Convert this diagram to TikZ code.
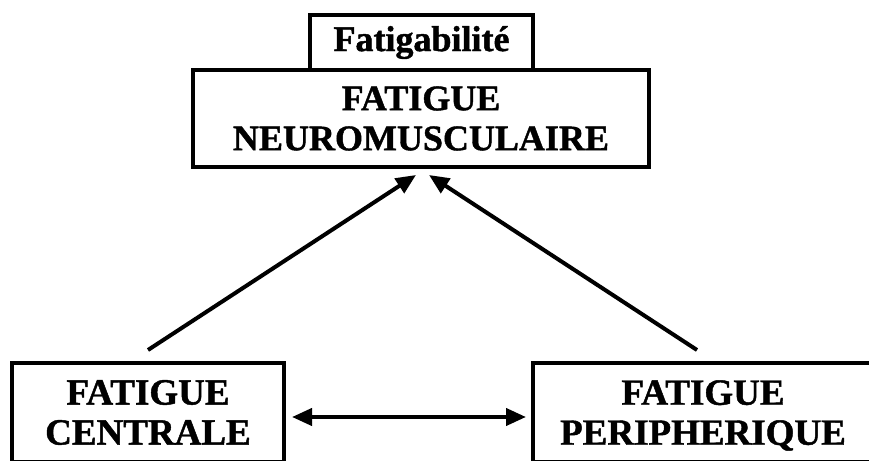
\documentclass[tikz,border=0pt]{standalone}
\usepackage{fontspec}
\setmainfont[BoldFeatures={FakeBold=1.2}]{Liberation Serif}
\usetikzlibrary{arrows.meta}
\begin{document}
\begin{tikzpicture}[x=1pt, y=1pt, line width=4pt,
    box/.style = {rectangle, draw = black, align = center, inner sep = 0pt,
                  font = \bfseries\fontsize{36}{40}\selectfont},
    arr/.style = {-{Triangle[length=20pt, width=17pt]}}]
    \useasboundingbox (0,0) rectangle (869,460);
    \node [box, minimum width = 456pt, minimum height = 97pt] (neuro) at (421,341.5) {FATIGUE\\NEUROMUSCULAIRE};
    \node [box, minimum width = 223pt, minimum height = 55pt, font = \bfseries\fontsize{36}{40}\selectfont] (fatig) at (421.5,417.5) {Fatigabilité};
    \node [box, minimum width = 272pt, minimum height = 99pt, font = \bfseries\fontsize{37}{40}\selectfont] (cent) at (148,47.5) {FATIGUE\\CENTRALE};
    \node [box, minimum width = 340pt, minimum height = 99pt, font = \bfseries\fontsize{37}{40}\selectfont] (peri) at (703,47.5) {FATIGUE\\\smash{PERIPHERIQUE}};
    \draw [arr] ([yshift=11pt]cent.north) -- ([xshift=-5pt, yshift=-6pt]neuro.south);
    \draw [arr] ([xshift=-6pt, yshift=11pt]peri.north) -- ([xshift=8pt, yshift=-6pt]neuro.south);
    \draw [arr, {Triangle[length=20pt, width=17pt]}-{Triangle[length=20pt, width=17pt]}] ([xshift=6pt, yshift=-4.5pt]cent.east) -- ([xshift=-5pt, yshift=-4.5pt]peri.west);
\end{tikzpicture}
\end{document}
